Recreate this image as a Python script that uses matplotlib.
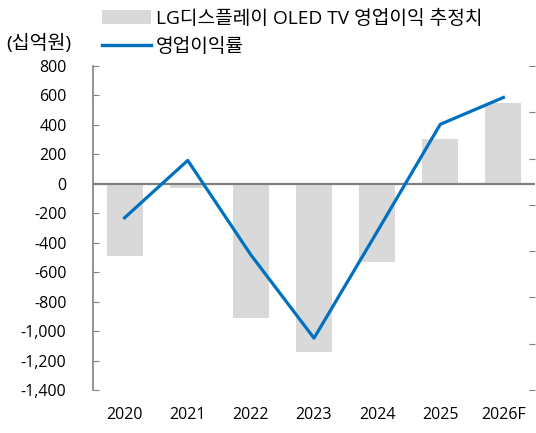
import matplotlib
matplotlib.use("Agg")
import matplotlib.pyplot as plt
from matplotlib.ticker import FuncFormatter
from matplotlib.patches import Patch
from matplotlib.lines import Line2D

plt.rcParams['font.family'] = ['Open Sans', 'Noto Sans CJK KR', 'DejaVu Sans']

# data
years = ['2020', '2021', '2022', '2023', '2024', '2025', '2026F']
oled_tv_profit = [-490, -30, -910, -1140, -530, 305, 550]   # 십억원
op_margin = [-1.4, 4.8, -5.4, -14.4, -2.9, 8.7, 11.6]          # %

bar_color = '#D9D9D9'
line_color = '#0070C0'
axis_gray = '#808080'

fig = plt.figure(figsize=(5.36, 4.33), dpi=100)
ax = fig.add_axes([93 / 536, 1 - 390 / 433, 442 / 536, 324 / 433])

x = list(range(len(years)))
ax.bar(x, oled_tv_profit, width=0.57, color=bar_color, zorder=1)
ax.axhline(0, color=axis_gray, lw=1.6, zorder=2)

ax.set_xlim(-0.5, len(years) - 0.5)
ax.set_ylim(-1400, 800)
ax.set_yticks(range(-1400, 801, 200))
ax.yaxis.set_major_formatter(FuncFormatter(lambda v, p: f'{int(v):,}'))
ax.set_xticks(x)
ax.set_xticklabels(years)
ax.tick_params(axis='x', length=0, labelsize=11.5, pad=12)
ax.tick_params(axis='y', direction='in', length=4, color=axis_gray, labelsize=11.5, pad=19)

for s in ['top', 'bottom', 'right']:
    ax.spines[s].set_visible(False)
ax.spines['left'].set_color(axis_gray)
ax.spines['left'].set_linewidth(1.2)

ax2 = ax.twinx()
ax2.plot(x, op_margin, color=line_color, lw=2.3, zorder=3)
ax2.set_ylim(-20, 15)
ax2.set_yticks(range(-20, 16, 5))
ax2.tick_params(axis='y', direction='in', length=4, color=axis_gray, labelright=False)
for s in ['top', 'bottom', 'left', 'right']:
    ax2.spines[s].set_visible(False)

fig.text(6 / 536, 1 - 43 / 433, '(십억원)', fontsize=14, va='center', ha='left')

handles = [Patch(facecolor=bar_color, edgecolor='none'),
           Line2D([0], [0], color=line_color, lw=2.4)]
labels = ['LG디스플레이 OLED TV 영업이익 추정치', '영업이익률']
fig.legend(handles, labels, loc='upper left', bbox_to_anchor=(92 / 536, 1 - 0 / 433),
           frameon=False, fontsize=13.8, handlelength=2.6, handleheight=0.8,
           handletextpad=0.25, labelspacing=0.55, borderaxespad=0.1)

fig.savefig('out.png', dpi=100)
